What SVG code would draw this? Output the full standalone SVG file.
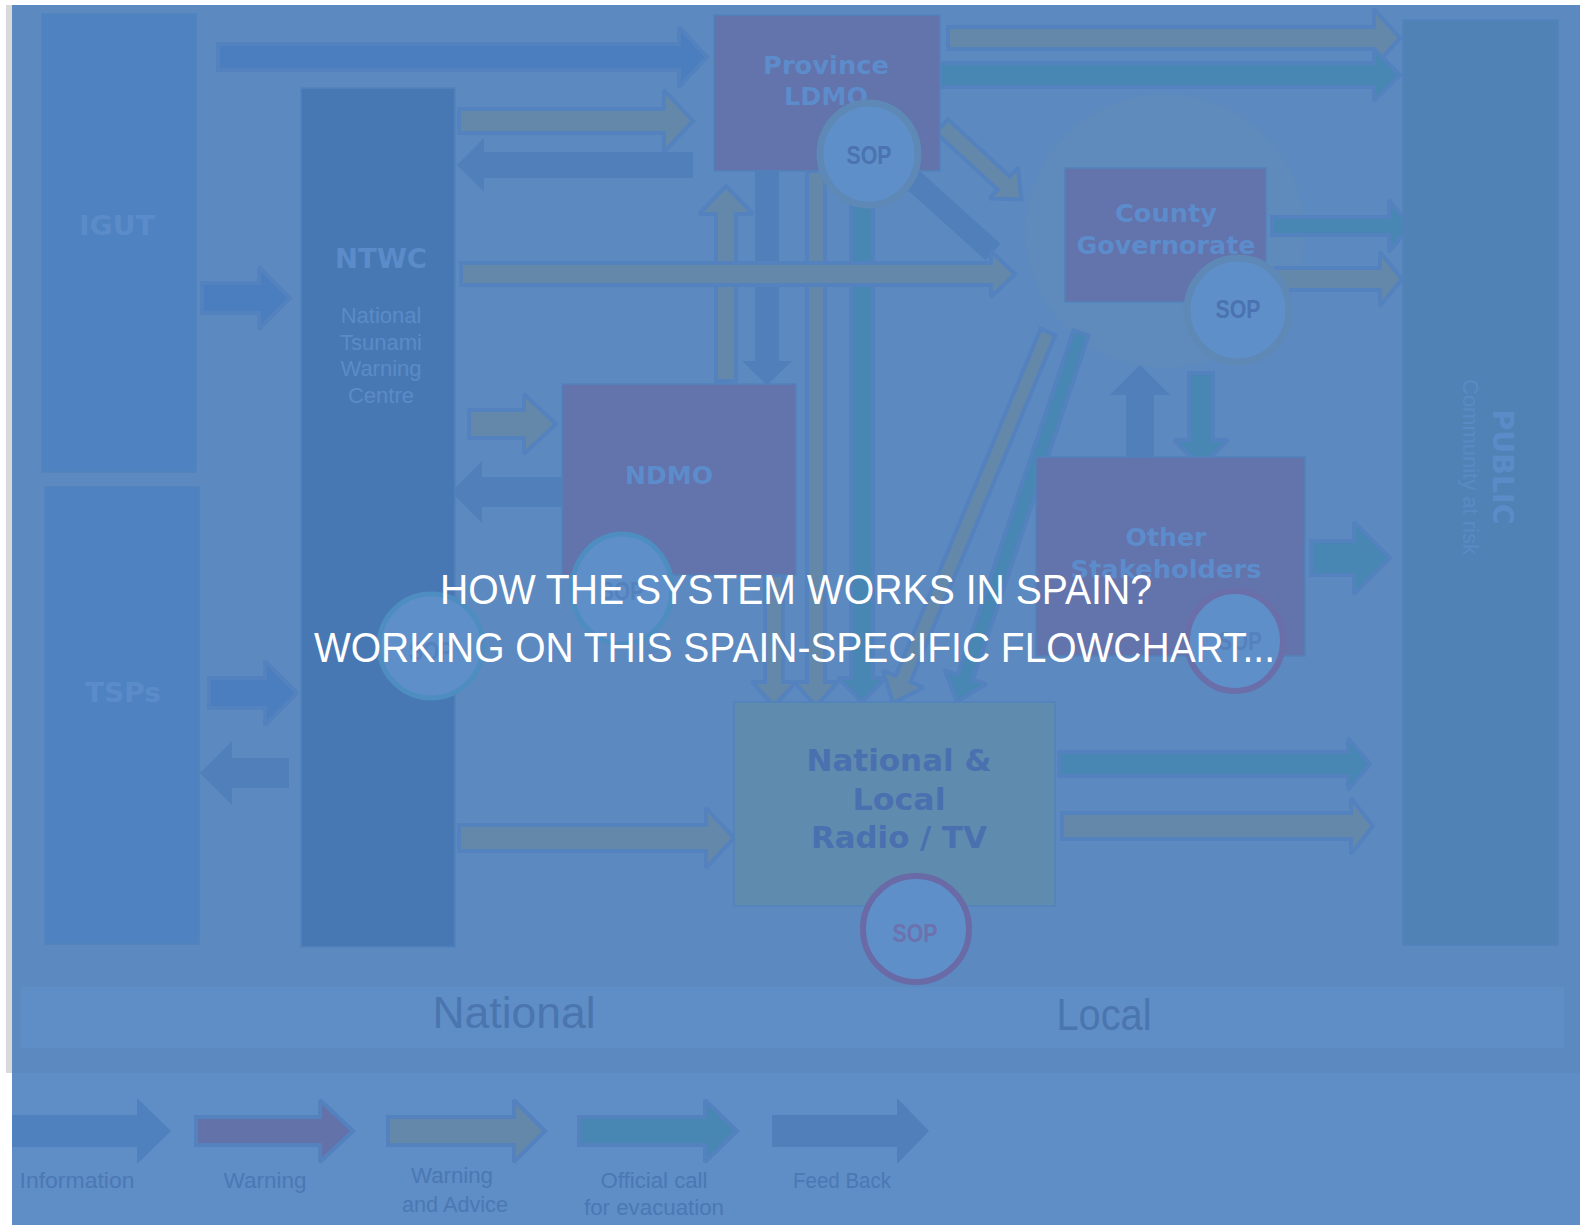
<svg xmlns="http://www.w3.org/2000/svg" width="1580" height="1225" viewBox="0 0 1580 1225">
<defs>
<style>
.info{fill:#4a7ebe;stroke:#5482bf;stroke-width:4;stroke-miterlimit:2}
.warn{fill:#6472aa;stroke:#5482bf;stroke-width:4;stroke-miterlimit:2}
.wa{fill:#6488a9;stroke:#5482bf;stroke-width:4;stroke-miterlimit:2}
.off{fill:#4886b3;stroke:#5482bf;stroke-width:4;stroke-miterlimit:2}
.fb{fill:#507fb9}
.box{stroke:#5283bd;stroke-width:1.5}
.t{font-family:"DejaVu Sans","Liberation Sans",sans-serif;font-weight:bold;text-anchor:middle}
.r{font-family:"Liberation Sans",Arial,sans-serif;text-anchor:middle}
.sop{font-family:"Liberation Sans",Arial,sans-serif;font-size:25px;font-weight:bold;text-anchor:middle}
.lbl{font-family:"Liberation Sans",Arial,sans-serif;font-size:22px;fill:#4b78b3;text-anchor:middle}
</style>
</defs>
<rect x="0" y="0" width="1580" height="1225" fill="#ffffff"/>
<rect x="6" y="5" width="6" height="1068" fill="#d9d9d9"/>
<rect x="12" y="5" width="1568" height="1068" fill="#5b89c0"/>
<rect x="21" y="987" width="1543" height="61" fill="#5f8dc5"/>
<rect x="12" y="1073" width="1568" height="152" fill="#5f8dc6"/>

<g id="county-halo"><ellipse cx="1165" cy="231" rx="140" ry="137" fill="#5e8bbb"/></g>

<g id="connectors">
<polygon class="wa" points="716,381 716,214 699,214 726,186 753,214 736,214 736,381"/>
<polygon class="fb" points="755,171 779,171 779,361 792,361 767,385 742,361 755,361"/>
<polygon class="wa" points="765,575 783,575 783,682 796,682 774,706 752,682 765,682"/>
<polygon class="wa" points="807,171 825,171 825,682 838,682 816,706 794,682 807,682"/>
<polygon class="off" points="851,205 873,205 873,678 886,678 862,702 838,678 851,678"/>
<line x1="912" y1="179" x2="993" y2="252" stroke="#507fb9" stroke-width="22"/>
<polygon class="wa" transform="translate(942,126) rotate(42.7)" points="0,-9 84,-9 84,-21 108,0 84,21 84,9 0,9"/>
<polygon class="wa" transform="translate(1048,332) rotate(112.67)" points="0,-8 376,-8 376,-22 402,0 376,22 376,8 0,8"/>
<polygon class="off" transform="translate(1081,333) rotate(108.57)" points="0,-8 363,-8 363,-22 389,0 363,22 363,8 0,8"/>
<polygon class="info" points="218,44 679,44 679,27 707,57 679,87 679,70 218,70"/>
<polygon class="wa" points="459,109 664,109 664,90 693,121 664,152 664,133 459,133"/>
<polygon class="fb" points="693,152 484,152 484,138 457,165 484,192 484,178 693,178"/>
<polygon class="info" points="202,283 259,283 259,267 290,298 259,329 259,313 202,313"/>
<polygon class="wa" points="461,263 991,263 991,251 1015,274 991,297 991,285 461,285"/>
<polygon class="wa" points="469,410 524,410 524,394 556,424 524,454 524,438 469,438"/>
<polygon class="fb" points="562,477 482,477 482,461 451,492 482,523 482,507 562,507"/>
<polygon class="info" points="209,678 265,678 265,661 297,693 265,725 265,708 209,708"/>
<polygon class="fb" points="289,758 232,758 232,741 200,773 232,805 232,788 289,788"/>
<polygon class="wa" points="459,825 706,825 706,808 734,838 706,868 706,851 459,851"/>
<polygon class="wa" points="948,27 1374,27 1374,9 1400,38 1374,67 1374,49 948,49"/>
<polygon class="off" points="940,63 1374,63 1374,49 1400,75 1374,101 1374,87 940,87"/>
<polygon class="off" points="1272,217 1389,217 1389,200 1410,226 1389,252 1389,235 1272,235"/>
<polygon class="wa" points="1275,268 1380,268 1380,252 1402,279 1380,306 1380,290 1275,290"/>
<polygon class="fb" points="1126,457 1126,395 1110,395 1140,365 1170,395 1154,395 1154,457"/>
<polygon class="off" points="1189,373 1213,373 1213,440 1228,440 1201,467 1174,440 1189,440"/>
<polygon class="off" points="1311,541 1354,541 1354,522 1390,558 1354,594 1354,575 1311,575"/>
<polygon class="off" points="1059,752 1348,752 1348,738 1370,764 1348,790 1348,776 1059,776"/>
<polygon class="wa" points="1062,813 1351,813 1351,798 1373,826 1351,854 1351,839 1062,839"/>
</g>

<g id="igut">
<rect class="box" x="42" y="14" width="154" height="458" fill="#4f82c0"/>
<text class="t" x="117" y="235" font-size="26" fill="#5b8cc9" textLength="76" lengthAdjust="spacingAndGlyphs">IGUT</text>
</g>
<g id="tsps">
<rect class="box" x="45" y="487" width="154" height="457" fill="#4f82c0"/>
<text class="t" x="123" y="702" font-size="26" fill="#5b8cc9" textLength="76" lengthAdjust="spacingAndGlyphs">TSPs</text>
</g>
<g id="ntwc">
<rect class="box" x="301" y="88" width="154" height="859" fill="#4778b3"/>
<text class="t" x="381" y="268" font-size="26" fill="#5b8cc9" textLength="92" lengthAdjust="spacingAndGlyphs">NTWC</text>
<text class="r" x="381" y="323" font-size="22" fill="#5b8bc7">National</text>
<text class="r" x="381" y="350" font-size="22" fill="#5b8bc7">Tsunami</text>
<text class="r" x="381" y="376" font-size="22" fill="#5b8bc7">Warning</text>
<text class="r" x="381" y="403" font-size="22" fill="#5b8bc7">Centre</text>
<ellipse cx="431" cy="646" rx="52" ry="52" fill="#5f8fc9" stroke="#4e8dc0" stroke-width="5"/>
<text class="sop" x="431" y="660" fill="#5581bd" textLength="44" lengthAdjust="spacingAndGlyphs">SOP</text>
</g>
<g id="province">
<rect class="box" x="714" y="15" width="226" height="156" fill="#6373ab"/>
<text class="t" x="826" y="74" font-size="25.5" fill="#5c8ccb" textLength="126" lengthAdjust="spacingAndGlyphs">Province</text>
<text class="t" x="826" y="105" font-size="25.5" fill="#5c8ccb" textLength="84" lengthAdjust="spacingAndGlyphs">LDMO</text>
<ellipse cx="869" cy="154" rx="49" ry="51" fill="#5f8fc9" stroke="#5e88b5" stroke-width="7"/>
<text class="sop" x="869" y="164" fill="#4a73b0" textLength="45" lengthAdjust="spacingAndGlyphs">SOP</text>
</g>
<g id="county">
<rect class="box" x="1065" y="168" width="201" height="134" fill="#6373ab"/>
<text class="t" x="1166" y="222" font-size="25.5" fill="#5c8ccb" textLength="102" lengthAdjust="spacingAndGlyphs">County</text>
<text class="t" x="1166" y="254" font-size="25.5" fill="#5c8ccb" textLength="179" lengthAdjust="spacingAndGlyphs">Governorate</text>
<ellipse cx="1238" cy="310" rx="51" ry="52" fill="#5f8fc9" stroke="#5e88b5" stroke-width="7"/>
<text class="sop" x="1238" y="318" fill="#4a73b0" textLength="45" lengthAdjust="spacingAndGlyphs">SOP</text>
</g>
<g id="ndmo">
<rect class="box" x="562" y="384" width="234" height="191" fill="#6373ab"/>
<text class="t" x="669" y="484" font-size="25.5" fill="#5c8ccb" textLength="88" lengthAdjust="spacingAndGlyphs">NDMO</text>
<ellipse cx="622" cy="589" rx="50" ry="55" fill="#5f8fc9" stroke="#4e8dc0" stroke-width="5"/>
<text class="sop" x="622" y="600" fill="#5581bd" textLength="44" lengthAdjust="spacingAndGlyphs">SOP</text>
</g>
<g id="other-stakeholders">
<rect class="box" x="1036" y="457" width="269" height="199" fill="#6373ab"/>
<text class="t" x="1166" y="546" font-size="25.5" fill="#5c8ccb" textLength="81" lengthAdjust="spacingAndGlyphs">Other</text>
<text class="t" x="1166" y="578" font-size="25.5" fill="#5c8ccb" textLength="191" lengthAdjust="spacingAndGlyphs">Stakeholders</text>
<ellipse cx="1235" cy="641" rx="48" ry="50" fill="#5f8fc9" stroke="#6a6fa9" stroke-width="6"/>
<text class="sop" x="1240" y="650" fill="#5581bd" textLength="44" lengthAdjust="spacingAndGlyphs">SOP</text>
</g>
<g id="radio-tv">
<rect class="box" x="734" y="702" width="321" height="204" fill="#5f8bae"/>
<text class="t" x="899" y="771" font-size="30" fill="#4a70b0" textLength="185" lengthAdjust="spacingAndGlyphs">National &amp;</text>
<text class="t" x="899" y="810" font-size="30" fill="#4a70b0" textLength="93" lengthAdjust="spacingAndGlyphs">Local</text>
<text class="t" x="899" y="848" font-size="30" fill="#4a70b0" textLength="176" lengthAdjust="spacingAndGlyphs">Radio / TV</text>
<ellipse cx="916" cy="929" rx="53" ry="53" fill="#5f8fc9" stroke="#6a6aa6" stroke-width="6"/>
<text class="sop" x="915" y="942" fill="#6b72ad" textLength="45" lengthAdjust="spacingAndGlyphs">SOP</text>
</g>
<g id="public">
<rect class="box" x="1403" y="20" width="155" height="925" fill="#5082b5"/>
<text class="t" transform="translate(1493,467) rotate(90)" x="0" y="0" font-size="29" fill="#5c8cc8" textLength="115" lengthAdjust="spacingAndGlyphs">PUBLIC</text>
<text class="r" transform="translate(1463,467) rotate(90)" x="0" y="0" font-size="22" fill="#5a8ac4" textLength="176" lengthAdjust="spacingAndGlyphs">Community at risk</text>
</g>

<g id="scope-labels">
<text class="r" x="514" y="1028" font-size="44" fill="#4a75ae" textLength="163" lengthAdjust="spacingAndGlyphs">National</text>
<text class="r" x="1104" y="1030" font-size="44" fill="#4a75ae" textLength="95" lengthAdjust="spacingAndGlyphs">Local</text>
</g>

<g id="legend">
<polygon fill="#4f81bf" points="12,1115 137,1115 137,1098 171,1131 137,1164 137,1147 12,1147"/>
<polygon class="warn" points="196,1117 320,1117 320,1100 353,1131 320,1162 320,1145 196,1145"/>
<polygon class="wa" points="388,1117 514,1117 514,1100 545,1131 514,1162 514,1145 388,1145"/>
<polygon class="off" points="579,1117 705,1117 705,1100 737,1131 705,1162 705,1145 579,1145"/>
<polygon class="fb" points="772,1115 897,1115 897,1098 929,1131 897,1164 897,1147 772,1147"/>
<text class="lbl" x="77" y="1188" textLength="115" lengthAdjust="spacingAndGlyphs">Information</text>
<text class="lbl" x="265" y="1188" textLength="83" lengthAdjust="spacingAndGlyphs">Warning</text>
<text class="lbl" x="452" y="1183" textLength="82" lengthAdjust="spacingAndGlyphs">Warning</text>
<text class="lbl" x="455" y="1212" textLength="106" lengthAdjust="spacingAndGlyphs">and Advice</text>
<text class="lbl" x="654" y="1188" textLength="107" lengthAdjust="spacingAndGlyphs">Official call</text>
<text class="lbl" x="654" y="1215" textLength="140" lengthAdjust="spacingAndGlyphs">for evacuation</text>
<text class="lbl" x="842" y="1188" textLength="98" lengthAdjust="spacingAndGlyphs">Feed Back</text>
</g>

<g id="overlay-title">
<text x="440" y="604" font-family="Liberation Sans, Arial, sans-serif" font-size="42" fill="#ffffff" textLength="712" lengthAdjust="spacingAndGlyphs">HOW THE SYSTEM WORKS IN SPAIN?</text>
<text x="314" y="662" font-family="Liberation Sans, Arial, sans-serif" font-size="42" fill="#ffffff" textLength="961" lengthAdjust="spacingAndGlyphs">WORKING ON THIS SPAIN-SPECIFIC FLOWCHART...</text>
</g>
</svg>
